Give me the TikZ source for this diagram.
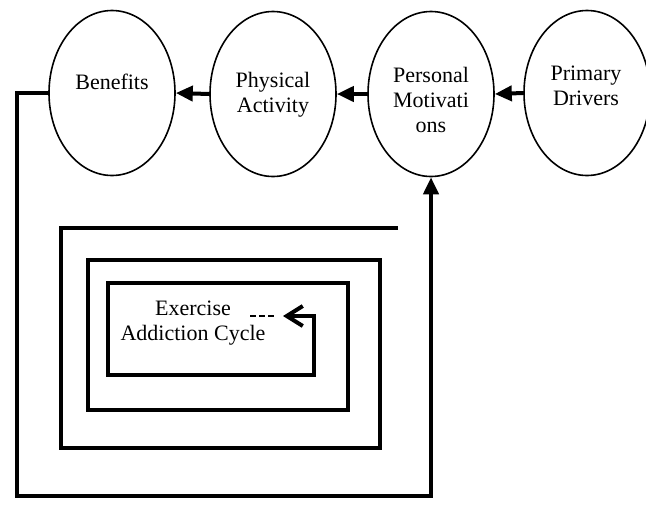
\documentclass[tikz,border=0pt]{standalone}
\usepackage{fontspec}
\setmainfont{Liberation Serif}
\usetikzlibrary{shapes.geometric,arrows.meta}

\tikzset{
  blob/.style={ellipse,draw,line width=0.8pt,minimum width=63pt,minimum height=82.5pt,inner sep=0pt},
  lbl/.style={align=center,font=\fontsize{11}{12.5}\selectfont},
  flow/.style={line width=2pt,-{Triangle[length=8.5pt,width=7.5pt]}},
  loopln/.style={line width=2pt}
}

\begin{document}
\begin{tikzpicture}[x=0.5pt,y=-0.5pt]
        \useasboundingbox (0,0) rectangle (646,504);
        % the four stages
        \node[blob] (ben) at (112,93) {};
        \node[blob] (pa) at (273,94) {};
        \node[blob] (pm) at (431,94) {};
        \node[blob] (pd) at (587,93) {};
        \node[lbl] (benT) at (112,82) {Benefits};
        \node[lbl] (paT) at (273,95) {Physical\\Activity};
        \node[lbl] (pmT) at (431,100) {Personal\\Motivati\\ons};
        \node[lbl] (pdT) at (586,86) {Primary\\Drivers};
        \draw[flow] (pd.west) -- (pm.east);
        \draw[flow] (pm.west) -- (pa.east);
        \draw[flow] (pa.west) -- (ben.east);
        % feedback loop
        \coordinate (lc) at (17,496);
        \coordinate (rc) at (431,496);
        \draw[flow,line join=miter] (ben.west) -| (lc) -- (rc) -- (pm.south);
        % spiral
        \draw[loopln,-{Straight Barb[length=8pt,width=10pt]}] (398,228) -- (61,228) -- (61,448) -- (380,448) -- (380,260)
            -- (88,260) -- (88,410) -- (348,410) -- (348,283) -- (108,283) -- (108,375)
            -- (314,375) -- (314,316) -- (283,316);
        \draw[line width=0.6pt,dash pattern=on 3pt off 1.5pt] (250,316) -- (274,316);
        \node[lbl] (cyc) at (193,323) {Exercise\\Addiction Cycle};
    \end{tikzpicture}
\end{document}
